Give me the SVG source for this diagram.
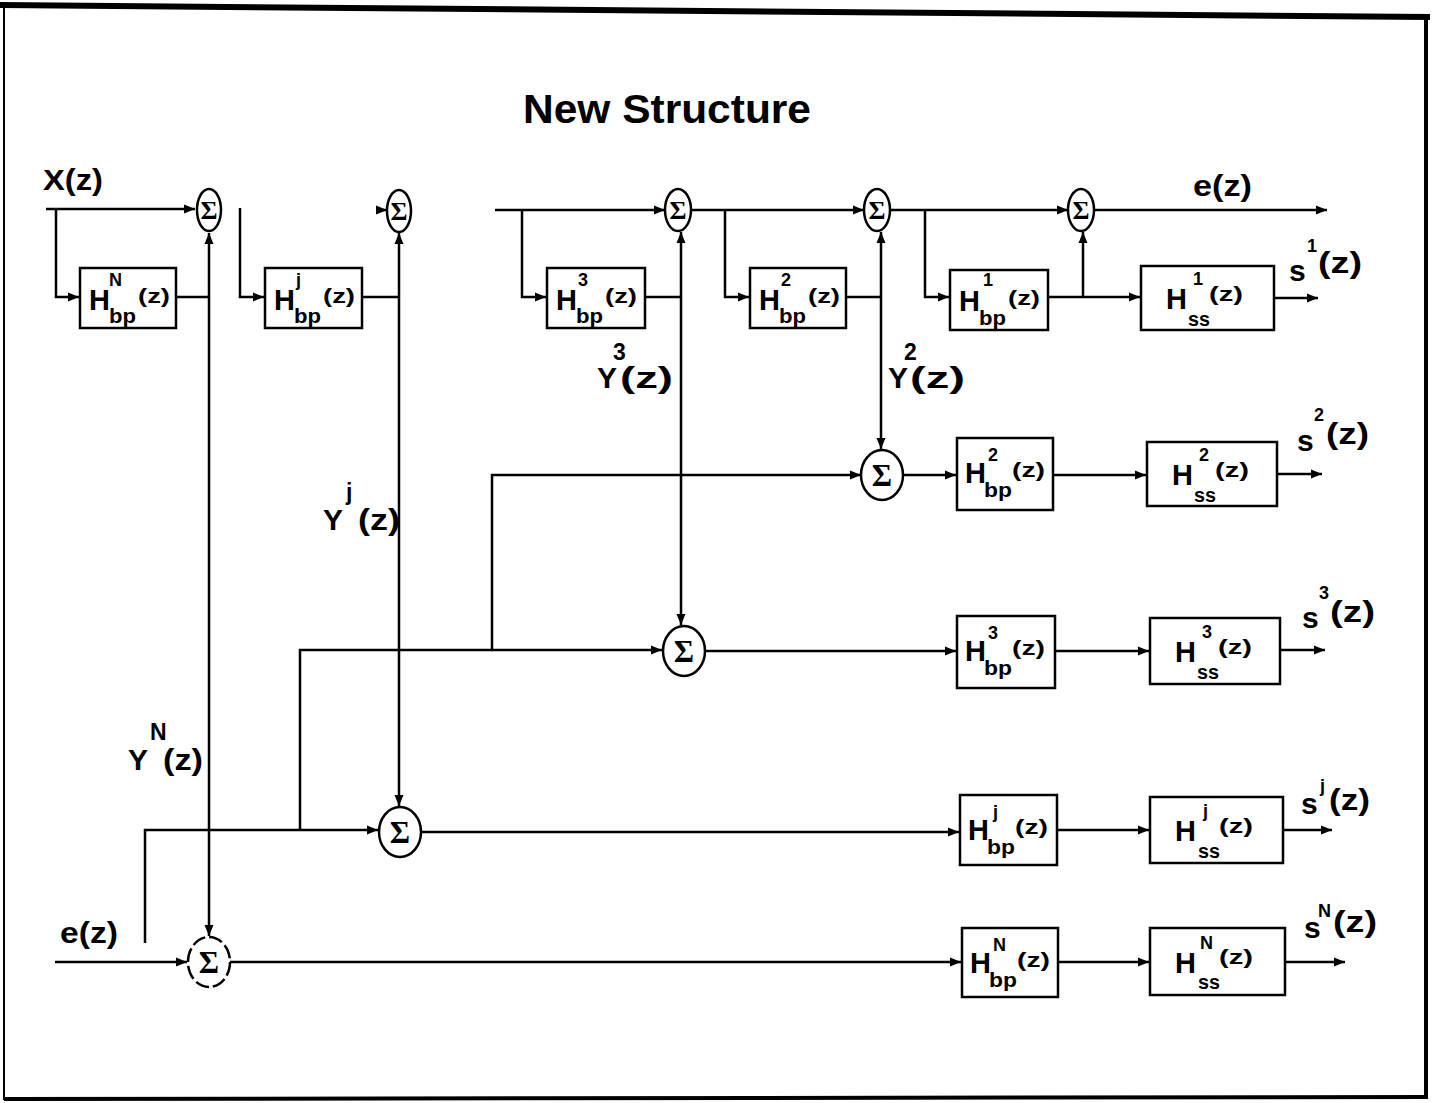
<svg xmlns="http://www.w3.org/2000/svg" width="1432" height="1103" viewBox="0 0 1432 1103">
<defs>
<marker id="arr" markerUnits="userSpaceOnUse" markerWidth="12" markerHeight="10" refX="11" refY="5" orient="auto">
<path d="M0,0.5 L11,5 L0,9.5 z" fill="#000"/>
</marker>
<style>
text{font-family:"Liberation Sans",Arial,sans-serif;font-weight:bold;fill:#000}
.box{fill:none;stroke:#000;stroke-width:2.5}
.sum{fill:none;stroke:#000;stroke-width:2.5}
.sig{font-family:"Liberation Serif","DejaVu Serif",serif;font-weight:bold;text-anchor:middle}
.w{fill:none;stroke:#000;stroke-width:2.5}
.a{marker-end:url(#arr)}
.H{font-size:29px}
.sp{font-size:18px}
.sb{font-size:20px}
.pz{font-size:21px}
.lb{font-size:30px}
.ls{font-size:23px}
</style>
</defs>
<rect width="1432" height="1103" fill="#fff"/>
<g id="border" fill="none" stroke="#000">
<path d="M0,5 L1430,17" stroke-width="6"/>
<path d="M1426,15 V1099" stroke-width="4"/>
<path d="M4,1099 L1428,1097" stroke-width="4"/>
<path d="M4,5 V1100" stroke-width="2"/>
</g>
<text id="title" x="523" y="123" font-size="40" textLength="288" lengthAdjust="spacingAndGlyphs">New Structure</text>

<g id="connectors">
<path class="w a" d="M46,209 H195"/>
<path class="w a" d="M56,209 V297 H79"/>
<path class="w" d="M176,297 H209"/>
<path class="w a" d="M209,297 V233"/>
<path class="w a" d="M209,297 V936"/>
<path class="w a" d="M240,208 V297 H264"/>
<path class="w" d="M362,297 H399"/>
<path class="w a" d="M399,297 V233"/>
<path class="w a" d="M399,297 V806"/>
<path class="w a" d="M380,210 H387"/>
<path class="w a" d="M495,210 H665"/>
<path class="w a" d="M522,210 V297 H546"/>
<path class="w" d="M645,297 H681"/>
<path class="w a" d="M681,297 V232"/>
<path class="w a" d="M681,297 V625"/>
<path class="w a" d="M691,210 H864"/>
<path class="w a" d="M725,210 V297 H749"/>
<path class="w" d="M846,297 H881"/>
<path class="w a" d="M881,297 V232"/>
<path class="w a" d="M881,297 V449"/>
<path class="w a" d="M890,210 H1068"/>
<path class="w a" d="M925,210 V297 H949"/>
<path class="w a" d="M1048,297 H1140"/>
<path class="w a" d="M1083,297 V232"/>
<path class="w a" d="M1094,210 H1327"/>
<path class="w a" d="M1274,298 H1318"/>
<path class="w a" d="M492,650 V475 H861"/>
<path class="w a" d="M903,475 H956"/>
<path class="w a" d="M1053,475 H1146"/>
<path class="w a" d="M1277,474 H1322"/>
<path class="w a" d="M300,830 V650 H662"/>
<path class="w a" d="M705,651 H956"/>
<path class="w a" d="M1055,651 H1149"/>
<path class="w a" d="M1280,650 H1325"/>
<path class="w a" d="M145,943 V830 H378"/>
<path class="w a" d="M421,832 H959"/>
<path class="w a" d="M1057,830 H1149"/>
<path class="w a" d="M1283,830 H1332"/>
<path class="w a" d="M55,962 H187"/>
<path class="w a" d="M230,962 H961"/>
<path class="w a" d="M1058,962 H1149"/>
<path class="w a" d="M1285,962 H1345"/>
</g>

<g id="sum1"><ellipse class="sum" cx="209" cy="210" rx="12" ry="21"/><text class="sig" x="209" y="219" font-size="26">Σ</text></g>
<g id="sum2"><ellipse class="sum" cx="399" cy="211" rx="12" ry="21"/><text class="sig" x="399" y="220" font-size="26">Σ</text></g>
<g id="sum3"><ellipse class="sum" cx="678" cy="210" rx="13" ry="21"/><text class="sig" x="678" y="219" font-size="26">Σ</text></g>
<g id="sum4"><ellipse class="sum" cx="877" cy="210" rx="13" ry="21"/><text class="sig" x="877" y="219" font-size="26">Σ</text></g>
<g id="sum5"><ellipse class="sum" cx="1081" cy="210" rx="13" ry="21"/><text class="sig" x="1081" y="219" font-size="26">Σ</text></g>
<g id="sumR2"><ellipse class="sum" cx="882" cy="475" rx="21" ry="25"/><text class="sig" x="882" y="486" font-size="31">Σ</text></g>
<g id="sumR3"><ellipse class="sum" cx="684" cy="651" rx="21" ry="25"/><text class="sig" x="684" y="662" font-size="31">Σ</text></g>
<g id="sumRj"><ellipse class="sum" cx="400" cy="832" rx="21" ry="25"/><text class="sig" x="400" y="843" font-size="31">Σ</text></g>
<g id="sumRN"><ellipse class="sum" cx="209" cy="962" rx="21" ry="25" stroke-dasharray="14 4"/><text class="sig" x="209" y="973" font-size="31">Σ</text></g>

<g id="bpN_top"><rect class="box" x="80" y="268" width="96" height="60"/>
<text class="H" x="89" y="310">H</text><text class="sp" x="109" y="286">N</text><text class="sb" x="109" y="323" textLength="27" lengthAdjust="spacingAndGlyphs">bp</text><text class="pz" x="138" y="303" textLength="32" lengthAdjust="spacingAndGlyphs">(z)</text></g>
<g id="bpj_top"><rect class="box" x="265" y="268" width="97" height="60"/>
<text class="H" x="274" y="310">H</text><text class="sp" x="296" y="286">j</text><text class="sb" x="294" y="323" textLength="27" lengthAdjust="spacingAndGlyphs">bp</text><text class="pz" x="323" y="303" textLength="32" lengthAdjust="spacingAndGlyphs">(z)</text></g>
<g id="bp3_top"><rect class="box" x="547" y="268" width="98" height="60"/>
<text class="H" x="556" y="310">H</text><text class="sp" x="578" y="286">3</text><text class="sb" x="576" y="323" textLength="27" lengthAdjust="spacingAndGlyphs">bp</text><text class="pz" x="605" y="303" textLength="32" lengthAdjust="spacingAndGlyphs">(z)</text></g>
<g id="bp2_top"><rect class="box" x="750" y="268" width="96" height="60"/>
<text class="H" x="759" y="310">H</text><text class="sp" x="781" y="286">2</text><text class="sb" x="779" y="323" textLength="27" lengthAdjust="spacingAndGlyphs">bp</text><text class="pz" x="808" y="303" textLength="32" lengthAdjust="spacingAndGlyphs">(z)</text></g>
<g id="bp1_top"><rect class="box" x="950" y="270" width="98" height="60"/>
<text class="H" x="959" y="311">H</text><text class="sp" x="983" y="286">1</text><text class="sb" x="979" y="325" textLength="27" lengthAdjust="spacingAndGlyphs">bp</text><text class="pz" x="1008" y="305" textLength="32" lengthAdjust="spacingAndGlyphs">(z)</text></g>
<g id="ss1"><rect class="box" x="1141" y="266" width="133" height="64"/>
<text class="H" x="1166" y="309">H</text><text class="sp" x="1193" y="285">1</text><text class="pz" x="1209" y="301" textLength="34" lengthAdjust="spacingAndGlyphs">(z)</text><text class="sb" x="1188" y="326" textLength="22" lengthAdjust="spacingAndGlyphs">ss</text></g>

<g id="bp2"><rect class="box" x="957" y="438" width="96" height="72"/>
<text class="H" x="965" y="483">H</text><text class="sp" x="988" y="461">2</text><text class="sb" x="984" y="497" textLength="28" lengthAdjust="spacingAndGlyphs">bp</text><text class="pz" x="1012" y="477" textLength="33" lengthAdjust="spacingAndGlyphs">(z)</text></g>
<g id="ss2"><rect class="box" x="1147" y="442" width="130" height="64"/>
<text class="H" x="1172" y="485">H</text><text class="sp" x="1199" y="461">2</text><text class="pz" x="1215" y="477" textLength="34" lengthAdjust="spacingAndGlyphs">(z)</text><text class="sb" x="1194" y="502" textLength="22" lengthAdjust="spacingAndGlyphs">ss</text></g>

<g id="bp3"><rect class="box" x="957" y="616" width="98" height="72"/>
<text class="H" x="965" y="661">H</text><text class="sp" x="988" y="639">3</text><text class="sb" x="984" y="675" textLength="28" lengthAdjust="spacingAndGlyphs">bp</text><text class="pz" x="1012" y="655" textLength="33" lengthAdjust="spacingAndGlyphs">(z)</text></g>
<g id="ss3"><rect class="box" x="1150" y="618" width="130" height="66"/>
<text class="H" x="1175" y="662">H</text><text class="sp" x="1202" y="638">3</text><text class="pz" x="1218" y="654" textLength="34" lengthAdjust="spacingAndGlyphs">(z)</text><text class="sb" x="1197" y="679" textLength="22" lengthAdjust="spacingAndGlyphs">ss</text></g>

<g id="bpj"><rect class="box" x="960" y="795" width="97" height="70"/>
<text class="H" x="968" y="840">H</text><text class="sp" x="993" y="818">j</text><text class="sb" x="987" y="854" textLength="28" lengthAdjust="spacingAndGlyphs">bp</text><text class="pz" x="1015" y="834" textLength="33" lengthAdjust="spacingAndGlyphs">(z)</text></g>
<g id="ssj"><rect class="box" x="1150" y="797" width="133" height="66"/>
<text class="H" x="1175" y="841">H</text><text class="sp" x="1203" y="817">j</text><text class="pz" x="1219" y="833" textLength="34" lengthAdjust="spacingAndGlyphs">(z)</text><text class="sb" x="1198" y="858" textLength="22" lengthAdjust="spacingAndGlyphs">ss</text></g>

<g id="bpN"><rect class="box" x="962" y="928" width="96" height="69"/>
<text class="H" x="970" y="973">H</text><text class="sp" x="993" y="951">N</text><text class="sb" x="989" y="987" textLength="28" lengthAdjust="spacingAndGlyphs">bp</text><text class="pz" x="1017" y="967" textLength="33" lengthAdjust="spacingAndGlyphs">(z)</text></g>
<g id="ssN"><rect class="box" x="1150" y="928" width="135" height="67"/>
<text class="H" x="1175" y="973">H</text><text class="sp" x="1200" y="949">N</text><text class="pz" x="1219" y="964" textLength="34" lengthAdjust="spacingAndGlyphs">(z)</text><text class="sb" x="1198" y="989" textLength="22" lengthAdjust="spacingAndGlyphs">ss</text></g>

<g id="labels">
<text class="lb" x="43" y="190" textLength="60" lengthAdjust="spacingAndGlyphs">X(z)</text>
<text class="lb" x="1193" y="196" font-size="28" textLength="59" lengthAdjust="spacingAndGlyphs">e(z)</text>
<text class="lb" x="60" y="943" font-size="28" textLength="58" lengthAdjust="spacingAndGlyphs">e(z)</text>

<text class="lb" x="597" y="388">Y</text><text class="ls" x="613" y="360">3</text><text class="lb" x="620" y="388" textLength="53" lengthAdjust="spacingAndGlyphs">(z)</text>
<text class="lb" x="888" y="388">Y</text><text class="ls" x="904" y="360">2</text><text class="lb" x="910" y="388" textLength="55" lengthAdjust="spacingAndGlyphs">(z)</text>
<text class="lb" x="323" y="530">Y</text><text class="ls" x="346" y="500">j</text><text class="lb" x="358" y="530" textLength="42" lengthAdjust="spacingAndGlyphs">(z)</text>
<text class="lb" x="128" y="770">Y</text><text class="ls" x="150" y="740">N</text><text class="lb" x="163" y="770" textLength="40" lengthAdjust="spacingAndGlyphs">(z)</text>

<text class="lb" x="1289" y="281">s</text><text class="sp" x="1307" y="252">1</text><text class="lb" x="1318" y="273" textLength="44" lengthAdjust="spacingAndGlyphs">(z)</text>
<text class="lb" x="1297" y="451">s</text><text class="sp" x="1314" y="421">2</text><text class="lb" x="1326" y="444" textLength="43" lengthAdjust="spacingAndGlyphs">(z)</text>
<text class="lb" x="1302" y="628">s</text><text class="sp" x="1319" y="599">3</text><text class="lb" x="1330" y="622" textLength="45" lengthAdjust="spacingAndGlyphs">(z)</text>
<text class="lb" x="1301" y="814">s</text><text class="sp" x="1320" y="792">j</text><text class="lb" x="1329" y="810" textLength="41" lengthAdjust="spacingAndGlyphs">(z)</text>
<text class="lb" x="1304" y="938">s</text><text class="sp" x="1318" y="917">N</text><text class="lb" x="1333" y="932" textLength="44" lengthAdjust="spacingAndGlyphs">(z)</text>
</g>
</svg>
